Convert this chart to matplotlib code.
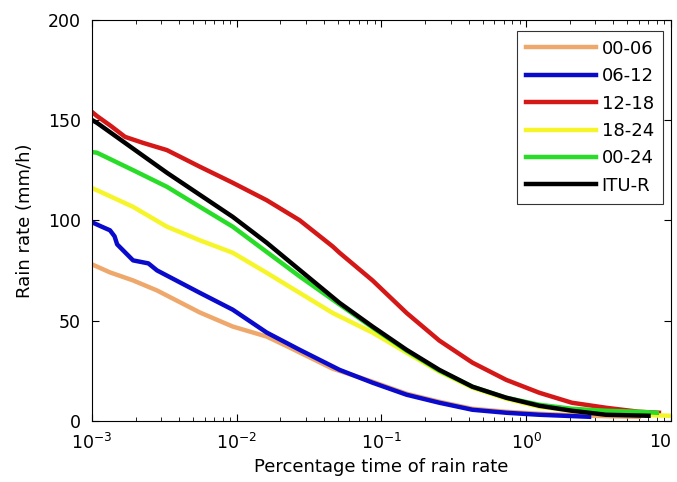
import matplotlib
matplotlib.use("Agg")
import matplotlib.pyplot as plt

plt.rcParams["font.family"] = ["DejaVu Sans"]

# percentage of time (%) vs rain rate (mm/h)
p_0006 = [0.001, 0.00133, 0.00192, 0.00281, 0.00556, 0.00938, 0.0161, 0.0225, 0.0459, 0.0867,
          0.149, 0.251, 0.425, 0.728, 1.23, 2.07, 3.56, 6.01]
r_0006 = [78, 74, 70, 65, 54, 47, 42, 37, 26, 19.5, 13.5, 9.5, 6, 4.5, 3.5, 2.8, 2.3, 2]

p_0612 = [0.001, 0.00115, 0.00133, 0.00143, 0.00149, 0.00192, 0.00245, 0.00281, 0.00556, 0.00938,
          0.0161, 0.0272, 0.0513, 0.0867, 0.149, 0.251, 0.425, 0.728, 1.23, 2.72]
r_0612 = [99, 97, 95, 92, 88, 80, 78.5, 75, 63.8, 55.4, 44, 35.4, 25.4, 19, 13, 9, 5.5, 4, 3, 2]

p_1218 = [0.001, 0.00108, 0.00135, 0.00169, 0.00225, 0.00329, 0.00556, 0.00938, 0.0161, 0.0272,
          0.0459, 0.0513, 0.0867, 0.149, 0.251, 0.425, 0.728, 1.23, 2.07, 3.56, 6.01, 8.26]
r_1218 = [154, 152, 147, 141.6, 138.6, 135, 126.7, 118.7, 110, 100, 87, 83.8, 70, 53.8, 40, 29,
          20.4, 14, 9, 6.5, 4.5, 4]

p_1824 = [0.001, 0.00108, 0.00192, 0.00329, 0.00556, 0.00938, 0.0161, 0.0459, 0.0867, 0.149,
          0.251, 0.425, 0.728, 1.23, 2.07, 3.56, 6.01, 10.0]
r_1824 = [116, 115, 106.7, 96.8, 90, 83.8, 73.8, 53.8, 44, 34, 24.5, 16.5, 11, 7, 5, 3.5, 3, 2.5]

p_0024 = [0.001, 0.00108, 0.00192, 0.00329, 0.00556, 0.00938, 0.0144, 0.0272, 0.0513, 0.0867,
          0.149, 0.251, 0.425, 0.728, 1.23, 2.07, 3.56, 6.01, 8.0]
r_0024 = [134, 133.7, 125, 116.7, 106.7, 96.8, 86.8, 72, 58, 46.5, 35, 25, 17, 11.5, 8, 6, 5, 4.5, 4]

p_itur = [0.001, 0.00108, 0.00329, 0.00938, 0.0161, 0.0513, 0.0867, 0.149, 0.251, 0.425, 0.728,
          1.23, 2.07, 3.56, 7.0]
r_itur = [150, 148.6, 123.7, 101.7, 88.8, 58.8, 47, 35.4, 25.4, 17, 11.5, 7.5, 5, 3, 2.5]

labels = ["00-06", "06-12", "12-18", "18-24", "00-24", "ITU-R"]
colors = ["#EFA86C", "#0A0ACD", "#D41818", "#F5F52A", "#28DC28", "#000000"]
series = [(p_0006, r_0006), (p_0612, r_0612), (p_1218, r_1218),
          (p_1824, r_1824), (p_0024, r_0024), (p_itur, r_itur)]

fig = plt.figure(figsize=(6.77, 4.82), dpi=100)
ax = fig.add_axes((0.136, 0.127, 0.855, 0.832))

for (px, ry), lab, col in zip(series, labels, colors):
    ax.plot(px, ry, color=col, lw=3.2, label=lab)

ax.set_xscale("log")
ax.set_xlim(1e-3, 10)
ax.set_ylim(0, 200)
ax.set_yticks([0, 50, 100, 150, 200])
ax.set_xticks([1e-3, 1e-2, 1e-1, 1, 10])
ax.set_xticklabels(["$10^{-3}$", "$10^{-2}$", "$10^{-1}$", "$10^{0}$", "10"])
ax.get_xticklabels()[-1].set_horizontalalignment("right")
ax.tick_params(which="both", direction="in", top=True, right=True, labelsize=12.5)
ax.tick_params(axis="x", pad=9)
ax.tick_params(axis="y", pad=8)
ax.tick_params(which="major", length=5)
ax.tick_params(which="minor", length=3)
for s in ax.spines.values():
    s.set_linewidth(0.8)

ax.set_xlabel("Percentage time of rain rate", fontsize=13, labelpad=3)
ax.set_ylabel("Rain rate (mm/h)", fontsize=13, labelpad=10)

leg = ax.legend(loc="upper right", fontsize=13, fancybox=False, edgecolor="black",
                handlelength=3.9, handletextpad=0.3, labelspacing=0.52,
                borderpad=0.5, borderaxespad=0, bbox_to_anchor=(0.986, 0.9725))
leg.get_frame().set_linewidth(0.8)

plt.savefig("out.png", dpi=100)
